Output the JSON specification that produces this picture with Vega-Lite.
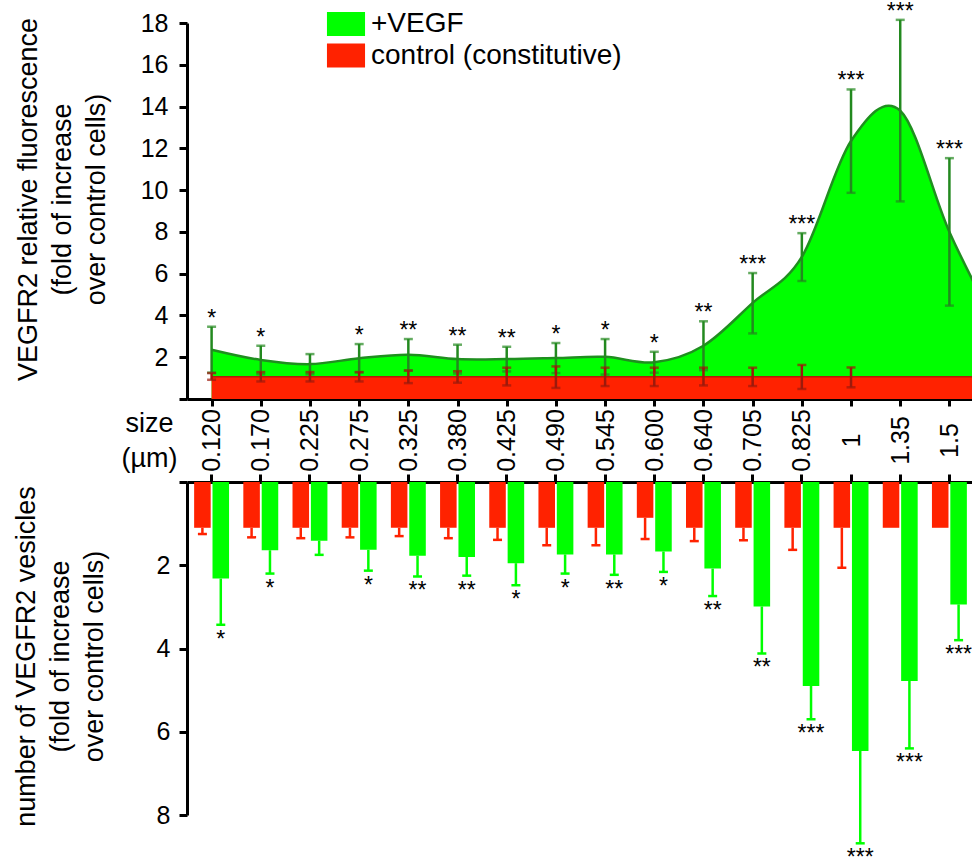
{
  "$schema": "https://vega.github.io/schema/vega-lite/v6.json",
  "padding": {"left": 12, "top": 0, "right": 0, "bottom": 0},
  "background": "white",
  "config": {
    "font": "Liberation Sans",
    "view": {"stroke": null},
    "axis": {
      "domainColor": "black", "domainWidth": 3, "tickColor": "black", "tickWidth": 3,
      "labelColor": "black", "titleColor": "black", "labelFontSize": 25, "titleFontSize": 27,
      "titleFontWeight": "normal", "grid": false, "labelOverlap": false, "labelFlush": false, "labelBound": false
    }
  },
  "datasets": {
    "fluor": [
      {"i": 0, "size": "0.120", "group": "+VEGF", "mean": 2.36, "lo": 1.26, "hi": 3.46, "star": "*"},
      {"i": 1, "size": "0.170", "group": "+VEGF", "mean": 1.87, "lo": 1.19, "hi": 2.55, "star": "*"},
      {"i": 2, "size": "0.225", "group": "+VEGF", "mean": 1.67, "lo": 1.19, "hi": 2.15, "star": null},
      {"i": 3, "size": "0.275", "group": "+VEGF", "mean": 1.95, "lo": 1.27, "hi": 2.63, "star": "*"},
      {"i": 4, "size": "0.325", "group": "+VEGF", "mean": 2.12, "lo": 1.37, "hi": 2.87, "star": "**"},
      {"i": 5, "size": "0.380", "group": "+VEGF", "mean": 1.91, "lo": 1.22, "hi": 2.6, "star": "**"},
      {"i": 6, "size": "0.425", "group": "+VEGF", "mean": 1.91, "lo": 1.32, "hi": 2.5, "star": "**"},
      {"i": 7, "size": "0.490", "group": "+VEGF", "mean": 1.96, "lo": 1.24, "hi": 2.68, "star": "*"},
      {"i": 8, "size": "0.545", "group": "+VEGF", "mean": 2.02, "lo": 1.17, "hi": 2.87, "star": "*"},
      {"i": 9, "size": "0.600", "group": "+VEGF", "mean": 1.76, "lo": 1.26, "hi": 2.26, "star": "*"},
      {"i": 10, "size": "0.640", "group": "+VEGF", "mean": 2.55, "lo": 1.38, "hi": 3.72, "star": "**"},
      {"i": 11, "size": "0.705", "group": "+VEGF", "mean": 4.6, "lo": 3.14, "hi": 6.03, "star": "***"},
      {"i": 12, "size": "0.825", "group": "+VEGF", "mean": 6.8, "lo": 5.65, "hi": 7.94, "star": "***"},
      {"i": 13, "size": "1", "group": "+VEGF", "mean": 12.35, "lo": 9.87, "hi": 14.82, "star": "***"},
      {"i": 14, "size": "1.35", "group": "+VEGF", "mean": 13.8, "lo": 9.46, "hi": 18.15, "star": "***"},
      {"i": 15, "size": "1.5", "group": "+VEGF", "mean": 8.0, "lo": 4.47, "hi": 11.53, "star": "***"},
      {"i": 16, "size": "2", "group": "+VEGF", "mean": 3.3, "lo": null, "hi": null, "star": null},
      {"i": 0, "size": "0.120", "group": "control (constitutive)", "mean": 1.07, "lo": 0.92, "hi": 1.24},
      {"i": 1, "size": "0.170", "group": "control (constitutive)", "mean": 1.07, "lo": 0.84, "hi": 1.29},
      {"i": 2, "size": "0.225", "group": "control (constitutive)", "mean": 1.07, "lo": 0.84, "hi": 1.29},
      {"i": 3, "size": "0.275", "group": "control (constitutive)", "mean": 1.07, "lo": 0.84, "hi": 1.29},
      {"i": 4, "size": "0.325", "group": "control (constitutive)", "mean": 1.07, "lo": 0.76, "hi": 1.36},
      {"i": 5, "size": "0.380", "group": "control (constitutive)", "mean": 1.07, "lo": 0.78, "hi": 1.33},
      {"i": 6, "size": "0.425", "group": "control (constitutive)", "mean": 1.07, "lo": 0.65, "hi": 1.5},
      {"i": 7, "size": "0.490", "group": "control (constitutive)", "mean": 1.07, "lo": 0.53, "hi": 1.56},
      {"i": 8, "size": "0.545", "group": "control (constitutive)", "mean": 1.07, "lo": 0.62, "hi": 1.5},
      {"i": 9, "size": "0.600", "group": "control (constitutive)", "mean": 1.07, "lo": 0.62, "hi": 1.5},
      {"i": 10, "size": "0.640", "group": "control (constitutive)", "mean": 1.07, "lo": 0.65, "hi": 1.5},
      {"i": 11, "size": "0.705", "group": "control (constitutive)", "mean": 1.07, "lo": 0.62, "hi": 1.5},
      {"i": 12, "size": "0.825", "group": "control (constitutive)", "mean": 1.07, "lo": 0.48, "hi": 1.63},
      {"i": 13, "size": "1", "group": "control (constitutive)", "mean": 1.07, "lo": 0.56, "hi": 1.51},
      {"i": 14, "size": "1.35", "group": "control (constitutive)", "mean": 1.07, "lo": null, "hi": null},
      {"i": 15, "size": "1.5", "group": "control (constitutive)", "mean": 1.07, "lo": null, "hi": null},
      {"i": 16, "size": "2", "group": "control (constitutive)", "mean": 1.07, "lo": null, "hi": null}
    ],
    "vesicles": [
      {"size": "0.120", "group": "control (constitutive)", "mean": 1.1, "hi": 1.25, "star": null},
      {"size": "0.120", "group": "+VEGF", "mean": 2.32, "hi": 3.43, "star": "*"},
      {"size": "0.170", "group": "control (constitutive)", "mean": 1.1, "hi": 1.33, "star": null},
      {"size": "0.170", "group": "+VEGF", "mean": 1.64, "hi": 2.2, "star": "*"},
      {"size": "0.225", "group": "control (constitutive)", "mean": 1.1, "hi": 1.35, "star": null},
      {"size": "0.225", "group": "+VEGF", "mean": 1.41, "hi": 1.75, "star": null},
      {"size": "0.275", "group": "control (constitutive)", "mean": 1.1, "hi": 1.33, "star": null},
      {"size": "0.275", "group": "+VEGF", "mean": 1.63, "hi": 2.13, "star": "*"},
      {"size": "0.325", "group": "control (constitutive)", "mean": 1.1, "hi": 1.3, "star": null},
      {"size": "0.325", "group": "+VEGF", "mean": 1.77, "hi": 2.27, "star": "**"},
      {"size": "0.380", "group": "control (constitutive)", "mean": 1.1, "hi": 1.35, "star": null},
      {"size": "0.380", "group": "+VEGF", "mean": 1.8, "hi": 2.25, "star": "**"},
      {"size": "0.425", "group": "control (constitutive)", "mean": 1.1, "hi": 1.39, "star": null},
      {"size": "0.425", "group": "+VEGF", "mean": 1.95, "hi": 2.48, "star": "*"},
      {"size": "0.490", "group": "control (constitutive)", "mean": 1.1, "hi": 1.52, "star": null},
      {"size": "0.490", "group": "+VEGF", "mean": 1.74, "hi": 2.2, "star": "*"},
      {"size": "0.545", "group": "control (constitutive)", "mean": 1.1, "hi": 1.52, "star": null},
      {"size": "0.545", "group": "+VEGF", "mean": 1.74, "hi": 2.23, "star": "**"},
      {"size": "0.600", "group": "control (constitutive)", "mean": 0.86, "hi": 1.37, "star": null},
      {"size": "0.600", "group": "+VEGF", "mean": 1.67, "hi": 2.16, "star": "*"},
      {"size": "0.640", "group": "control (constitutive)", "mean": 1.1, "hi": 1.42, "star": null},
      {"size": "0.640", "group": "+VEGF", "mean": 2.08, "hi": 2.74, "star": "**"},
      {"size": "0.705", "group": "control (constitutive)", "mean": 1.1, "hi": 1.4, "star": null},
      {"size": "0.705", "group": "+VEGF", "mean": 2.99, "hi": 4.12, "star": "**"},
      {"size": "0.825", "group": "control (constitutive)", "mean": 1.1, "hi": 1.63, "star": null},
      {"size": "0.825", "group": "+VEGF", "mean": 4.9, "hi": 5.7, "star": "***"},
      {"size": "1", "group": "control (constitutive)", "mean": 1.1, "hi": 2.06, "star": null},
      {"size": "1", "group": "+VEGF", "mean": 6.46, "hi": 8.68, "star": "***"},
      {"size": "1.35", "group": "control (constitutive)", "mean": 1.1, "hi": null, "star": null},
      {"size": "1.35", "group": "+VEGF", "mean": 4.78, "hi": 6.4, "star": "***"},
      {"size": "1.5", "group": "control (constitutive)", "mean": 1.1, "hi": null, "star": null},
      {"size": "1.5", "group": "+VEGF", "mean": 2.94, "hi": 3.8, "star": "***"}
    ]
  },
  "bounds": "flush",
  "spacing": 83,
  "resolve": {"scale": {"color": "independent"}, "legend": {"color": "independent"}},
  "vconcat": [
    {
      "width": 787,
      "height": 376,
      "data": {"name": "fluor"},
      "encoding": {
        "x": {
          "field": "i", "type": "quantitative",
          "scale": {"domain": [-0.5, 15.5], "nice": false, "zero": false},
          "axis": {
            "values": [0, 1, 2, 3, 4, 5, 6, 7, 8, 9, 10, 11, 12, 13, 14, 15],
            "labelExpr": "['0.120','0.170','0.225','0.275','0.325','0.380','0.425','0.490','0.545','0.600','0.640','0.705','0.825','1','1.35','1.5'][datum.value]",
            "labelAngle": 270, "labelAlign": "center", "labelBaseline": "middle",
            "tickSize": 7, "labelPadding": 34,
            "title": ["size", "(µm)"], "titleAngle": 0, "titleAlign": "center", "titleBaseline": "alphabetic",
            "titleX": -38, "titleY": 32, "titleLineHeight": 35, "titleFontSize": 27
          }
        }
      },
      "layer": [
        {
          "transform": [{"filter": "datum.group == '+VEGF'"}],
          "mark": {"type": "area", "interpolate": "cardinal", "clip": true, "opacity": 1},
          "encoding": {
            "y": {
              "field": "mean", "type": "quantitative",
              "title": ["VEGFR2 relative fluorescence", "(fold of increase", "over control cells)"],
              "scale": {"domain": [0, 18], "nice": false, "zero": true},
              "axis": {
                "values": [0, 2, 4, 6, 8, 10, 12, 14, 16, 18],
                "labelExpr": "datum.value == 0 ? '' : datum.label",
                "tickSize": 8, "labelPadding": 11,
                "titleAngle": 270, "titleAlign": "center", "titleBaseline": "alphabetic",
                "titleX": -151, "titleY": 176, "titleLineHeight": 34
              }
            },
            "color": {
              "field": "group", "type": "nominal",
              "scale": {"domain": ["+VEGF", "control (constitutive)"], "range": ["#00ff00", "#ff2200"]},
              "legend": {
                "orient": "none", "legendX": 142, "legendY": -16, "title": null, "padding": 0,
                "symbolType": "M-1.12,-0.706H1.12V0.706H-1.12Z", "symbolSize": 1156,
                "symbolStrokeWidth": 0, "symbolOpacity": 1, "labelFontSize": 28, "labelOffset": 8,
                "labelLimit": 500, "rowPadding": 0.5, "labelColor": "black"
              }
            }
          }
        },
        {
          "transform": [{"filter": "datum.group == '+VEGF'"}],
          "mark": {"type": "line", "interpolate": "cardinal", "clip": true, "color": "#1f8f1f", "strokeWidth": 2.5},
          "encoding": {"y": {"field": "mean", "type": "quantitative", "title": ["VEGFR2 relative fluorescence", "(fold of increase", "over control cells)"]}}
        },
        {
          "transform": [{"filter": "datum.group != '+VEGF'"}],
          "mark": {"type": "area", "clip": true, "opacity": 1},
          "encoding": {
            "y": {"field": "mean", "type": "quantitative", "title": ["VEGFR2 relative fluorescence", "(fold of increase", "over control cells)"]},
            "color": {"field": "group", "type": "nominal"}
          }
        },
        {
          "transform": [{"filter": "datum.group != '+VEGF'"}],
          "mark": {"type": "line", "clip": true, "color": "#b01d08", "strokeWidth": 1.5},
          "encoding": {"y": {"field": "mean", "type": "quantitative", "title": ["VEGFR2 relative fluorescence", "(fold of increase", "over control cells)"]}}
        },
        {
          "transform": [{"filter": "datum.group == '+VEGF' && datum.lo != null"}],
          "mark": {"type": "errorbar", "color": "#23891f", "ticks": {"size": 9, "thickness": 2.5}, "rule": {"strokeWidth": 2.5}},
          "encoding": {
            "y": {"field": "lo", "type": "quantitative", "title": ["VEGFR2 relative fluorescence", "(fold of increase", "over control cells)"]},
            "y2": {"field": "hi"}
          }
        },
        {
          "transform": [{"filter": "datum.group != '+VEGF' && datum.lo != null"}],
          "mark": {"type": "errorbar", "color": "#9c1a0c", "ticks": {"size": 9, "thickness": 2.5}, "rule": {"strokeWidth": 2.5}},
          "encoding": {
            "y": {"field": "lo", "type": "quantitative", "title": ["VEGFR2 relative fluorescence", "(fold of increase", "over control cells)"]},
            "y2": {"field": "hi"}
          }
        },
        {
          "transform": [{"filter": "datum.star != null"}],
          "mark": {"type": "text", "baseline": "alphabetic", "dy": -1, "fontSize": 23, "color": "black"},
          "encoding": {
            "y": {"field": "hi", "type": "quantitative", "title": ["VEGFR2 relative fluorescence", "(fold of increase", "over control cells)"]},
            "text": {"field": "star"}
          }
        }
      ]
    },
    {
      "width": 787,
      "height": 333,
      "data": {"name": "vesicles"},
      "encoding": {
        "x": {
          "field": "size", "type": "nominal",
          "scale": {
            "domain": ["0.120","0.170","0.225","0.275","0.325","0.380","0.425","0.490","0.545","0.600","0.640","0.705","0.825","1","1.35","1.5"],
            "paddingInner": 0.29, "paddingOuter": 0.145
          },
          "axis": {"orient": "top", "labels": false, "title": null, "tickSize": 8, "bandPosition": 0.5}
        },
        "xOffset": {
          "field": "group", "type": "nominal",
          "scale": {"domain": ["control (constitutive)", "+VEGF"], "paddingInner": 0.1}
        },
        "color": {
          "field": "group", "type": "nominal",
          "scale": {"domain": ["+VEGF", "control (constitutive)"], "range": ["#00ff00", "#ff2200"]},
          "legend": null
        }
      },
      "layer": [
        {
          "transform": [{"filter": "datum.hi != null"}],
          "mark": {"type": "rule", "strokeWidth": 2.5},
          "encoding": {
            "y": {"field": "mean", "type": "quantitative", "title": ["number of VEGFR2 vesicles", "(fold of increase", "over control cells)"]},
            "y2": {"field": "hi"}
          }
        },
        {
          "transform": [{"filter": "datum.hi != null"}],
          "mark": {"type": "tick", "size": 9, "thickness": 2.5, "opacity": 1},
          "encoding": {"y": {"field": "hi", "type": "quantitative", "title": ["number of VEGFR2 vesicles", "(fold of increase", "over control cells)"]}}
        },
        {
          "mark": {"type": "bar", "opacity": 1},
          "encoding": {
            "y": {
              "field": "mean", "type": "quantitative",
              "title": ["number of VEGFR2 vesicles", "(fold of increase", "over control cells)"],
              "scale": {"domain": [0, 8], "reverse": true, "nice": false},
              "axis": {
                "values": [0, 2, 4, 6, 8],
                "labelExpr": "datum.value == 0 ? '' : datum.label",
                "tickSize": 8, "labelPadding": 9,
                "titleAngle": 270, "titleAlign": "center", "titleBaseline": "alphabetic",
                "titleX": -153, "titleY": 174, "titleLineHeight": 34
              }
            }
          }
        },
        {
          "transform": [{"filter": "datum.star != null"}],
          "mark": {"type": "text", "baseline": "alphabetic", "dy": 22, "fontSize": 23, "color": "black"},
          "encoding": {
            "y": {"field": "hi", "type": "quantitative", "title": ["number of VEGFR2 vesicles", "(fold of increase", "over control cells)"]},
            "text": {"field": "star"},
            "color": {"value": "black"}
          }
        }
      ]
    }
  ]
}
